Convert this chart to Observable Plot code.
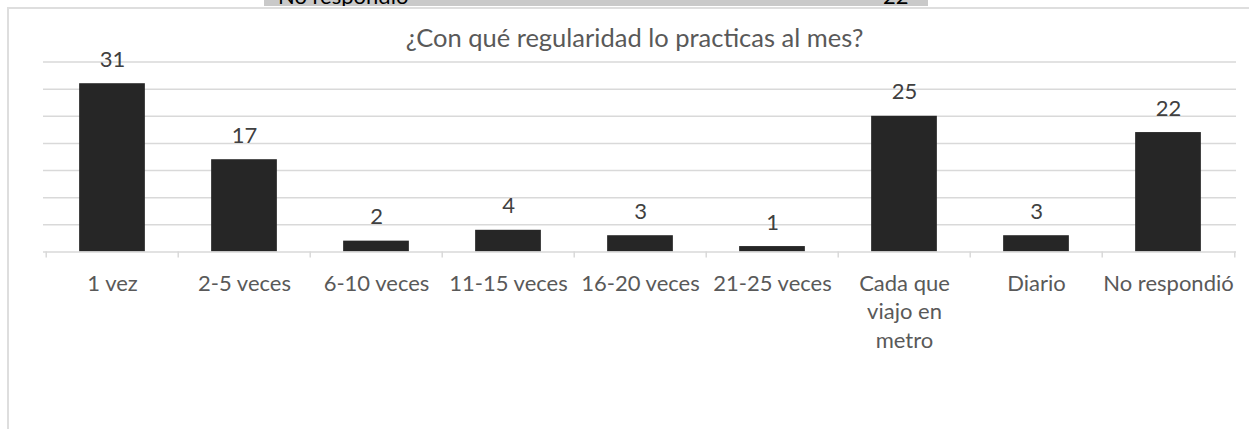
<!DOCTYPE html>
<html><head><meta charset="utf-8">
<script src="https://cdn.jsdelivr.net/npm/d3@7"></script>
<script src="https://cdn.jsdelivr.net/npm/@observablehq/plot@0.6"></script>
<style>
html,body{margin:0;padding:0;background:#fff;font-family:Lato,sans-serif;overflow:hidden}
#wrap{position:relative;width:1249px;height:429px;overflow:hidden;background:#fff}
.line{position:absolute;background:#dedede;z-index:3}
#cover{position:absolute;left:1238px;top:9px;width:11px;height:420px;background:#fff;z-index:2}
#strip{position:absolute;left:264px;top:0;width:664px;height:6px;background:#c9c9c9;overflow:hidden;font-size:22px;line-height:22px;color:#000;z-index:4}
#strip span{position:absolute;top:-15.5px;white-space:nowrap}
#title{position:absolute;left:0;top:24px;width:1249px;text-align:center;font-size:25.5px;line-height:26px;color:#595959;white-space:nowrap}
#title span{position:relative;left:10px}
#chart{position:absolute;left:0;top:0}
#chart svg{display:block;outline:none;border:none}
</style></head>
<body>
<div id="wrap">
  <div id="chart"></div>
  <div id="cover"></div>
  <div class="line" style="left:7px;top:7px;width:1242px;height:2px"></div>
  <div class="line" style="left:7px;top:7px;width:2px;height:422px"></div>
  <div id="strip"><span style="left:14px">No respondió</span><span style="left:619px">22</span></div>
  <div id="title"><span>¿Con qué regularidad lo practicas al mes?</span></div>
</div>
<script>
const categories = ["1 vez","2-5 veces","6-10 veces","11-15 veces","16-20 veces","21-25 veces","Cada que viajo en metro","Diario","No respondió"];
const values = [31,17,2,4,3,1,25,3,22];
const yTicks = [0,5,10,15,20,25,30,35];
const wrappedLabels = {"Cada que viajo en metro":"Cada que\nviajo en\nmetro"};

const data = categories.map((c,i)=>({c, v: values[i]}));
const W = 1249, H = 429, mL = 43, mR = 13;
const step = (W - mL - mR) / categories.length;

const chart = Plot.plot({
  width: W, height: H,
  marginLeft: mL, marginRight: mR, marginTop: 61.5, marginBottom: 177.5,
  style: {fontFamily: "Lato, sans-serif", background: "transparent"},
  x: {domain: categories, padding: 0, label: null},
  y: {domain: [0, 35], axis: null, label: null},
  marks: [
    Plot.ruleY(yTicks.slice(1), {stroke: "#d9d9d9", strokeWidth: 1.5}),
    Plot.barY(data, {x: "c", y: "v", fill: "#262626", insetLeft: step/4, insetRight: step/4}),
    Plot.ruleY([0], {stroke: "#d9d9d9", strokeWidth: 1.5}),
    Plot.axisX(categories, {tickSize: 6, tickFormat: () => "", label: null, dx: -step/2, stroke: "#d9d9d9", strokeWidth: 1.5, strokeOpacity: 1}),
    Plot.axisX([categories[categories.length-1]], {tickSize: 6, tickFormat: () => "", label: null, dx: step/2, stroke: "#d9d9d9", strokeWidth: 1.5, strokeOpacity: 1}),
    Plot.axisX(categories, {tickSize: 0, tickPadding: 18.5, label: null, tickFormat: d => wrappedLabels[d] ?? d, fontSize: 22, fill: "#595959", lineHeight: 1.3}),
    Plot.text(data, {x: "c", y: "v", text: d => String(d.v), dy: -17, lineAnchor: "bottom", fontSize: 22, fill: "#404040"})
  ]
});
document.getElementById("chart").appendChild(chart);
</script>
</body></html>
